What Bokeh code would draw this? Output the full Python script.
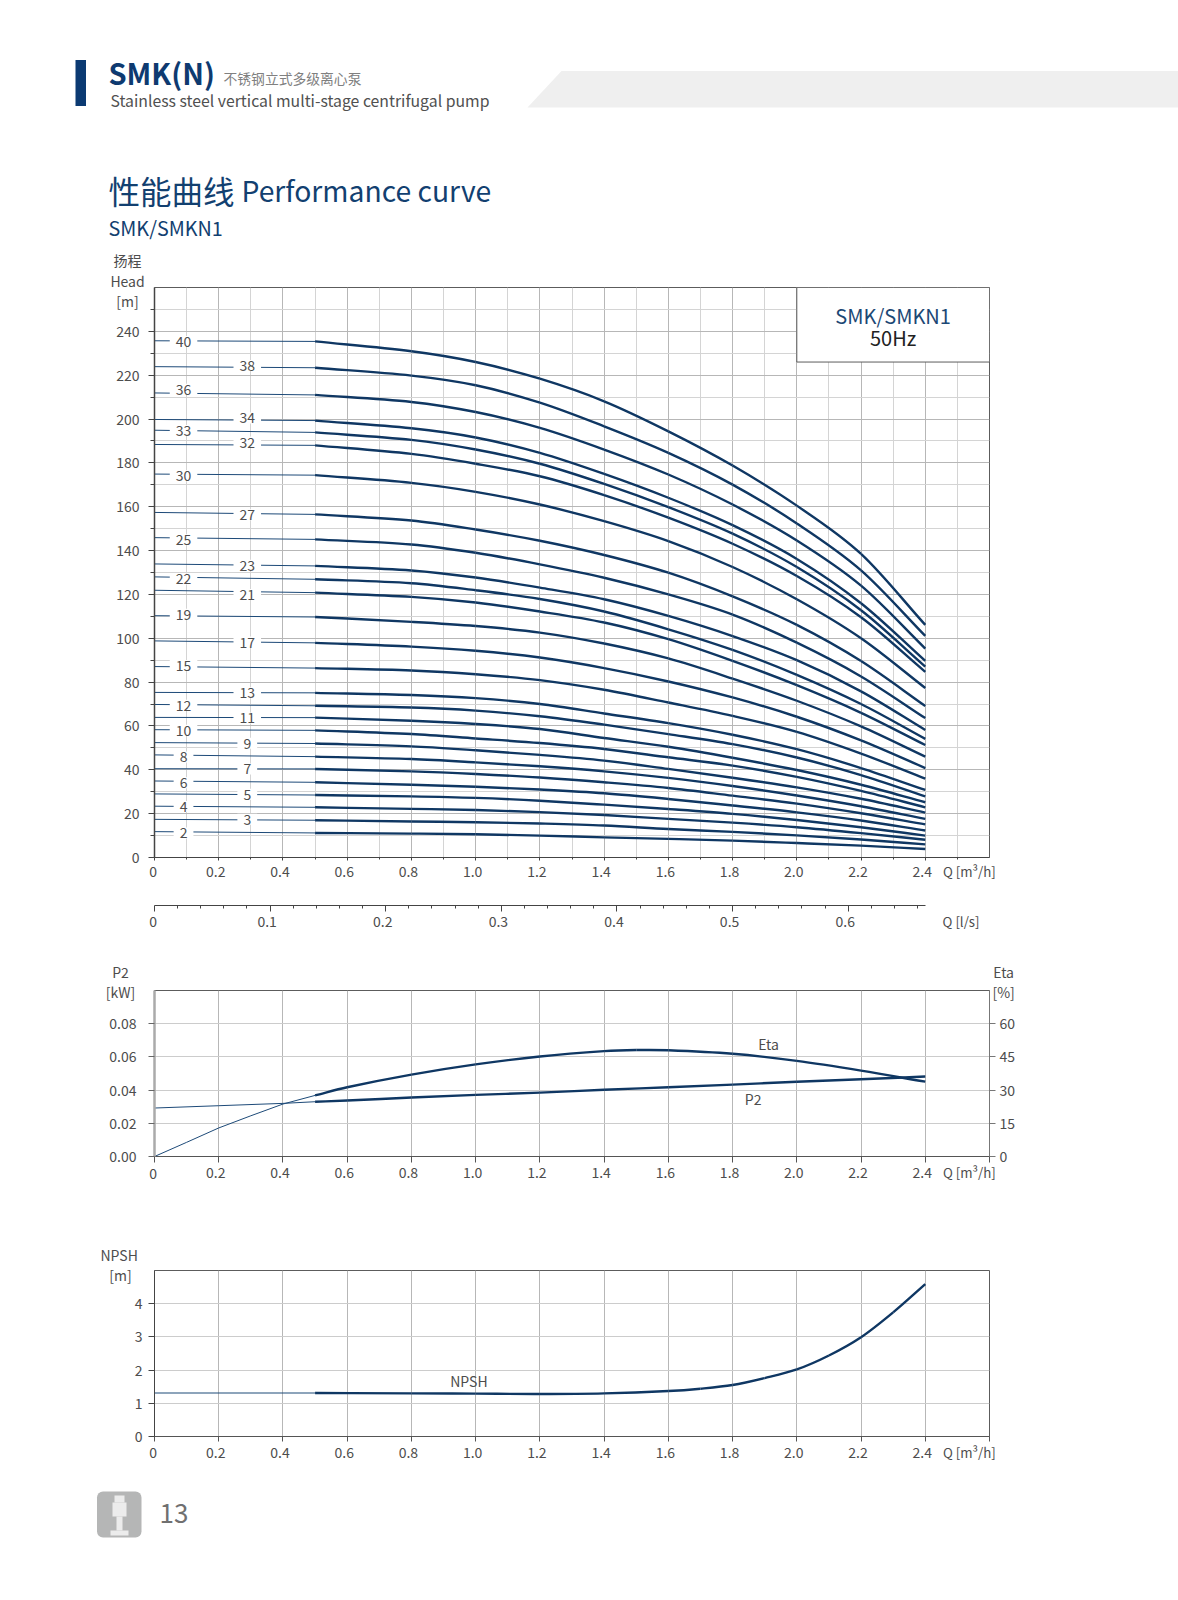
from bokeh.plotting import figure
from bokeh.models import (Range1d, LinearAxis, FixedTicker, Label, BoxAnnotation,
                          ColumnDataSource, PrintfTickFormatter)
from bokeh.layouts import column
from bokeh.core.properties import value
from bokeh.embed import file_html
from bokeh.resources import INLINE

FONT = "Noto Sans CJK SC"
NAVY = "#0f3763"
THIN = "#1d4a78"
TXT = "#4d4d4d"

# ---------- data ----------
Q = [0, 0.5, 0.8, 1.0, 1.2, 1.4, 1.6, 1.8, 2.0, 2.2, 2.4]
stage_40 = [235.7, 235.4, 230.9, 226.0, 218.4, 208.1, 194.4, 178.8, 160.5, 138.5, 106.1]
stage_38 = [223.9, 223.4, 219.8, 215.4, 207.5, 196.7, 184.6, 170.1, 152.4, 131.0, 101.1]
stage_36 = [211.9, 211.0, 207.8, 203.2, 196.0, 186.1, 174.7, 161.0, 144.6, 124.0, 95.3]
stage_34 = [199.8, 199.3, 195.8, 191.6, 184.6, 175.0, 164.1, 151.6, 136.2, 116.0, 89.7]
stage_33 = [194.9, 193.9, 190.5, 186.1, 179.6, 170.4, 159.8, 147.7, 132.5, 112.8, 87.1]
stage_32 = [188.4, 188.0, 184.1, 179.6, 173.9, 165.3, 155.0, 143.1, 128.4, 109.6, 84.7]
stage_30 = [174.9, 174.4, 170.9, 166.8, 161.0, 153.4, 144.3, 132.5, 117.8, 100.0, 77.3]
stage_27 = [157.4, 156.5, 153.7, 149.6, 144.5, 138.0, 129.9, 119.1, 106.1, 89.6, 69.1]
stage_25 = [145.9, 145.1, 142.8, 139.0, 133.7, 127.6, 120.0, 110.8, 98.0, 82.6, 63.6]
stage_23 = [133.9, 133.0, 130.9, 127.7, 123.1, 117.8, 110.2, 101.0, 90.0, 75.8, 58.2]
stage_22 = [128.0, 126.9, 125.1, 121.9, 117.9, 112.2, 104.1, 94.7, 83.3, 70.0, 54.1]
stage_21 = [121.9, 120.8, 118.9, 116.3, 112.2, 107.2, 99.6, 89.7, 78.6, 66.0, 51.3]
stage_19 = [110.3, 109.7, 107.5, 105.6, 102.6, 97.6, 90.8, 81.6, 71.5, 59.8, 46.0]
stage_17 = [98.8, 97.9, 96.2, 94.3, 91.2, 86.4, 80.3, 73.0, 64.2, 53.4, 40.8]
stage_15 = [87.1, 86.4, 85.3, 83.6, 80.9, 76.5, 70.7, 64.6, 57.3, 47.4, 36.0]
stage_13 = [75.3, 75.1, 74.1, 72.7, 70.0, 65.7, 61.3, 56.0, 49.4, 40.8, 30.8]
stage_12 = [69.8, 69.2, 68.4, 67.0, 64.4, 60.6, 56.3, 51.7, 45.6, 37.6, 27.9]
stage_11 = [63.9, 63.8, 62.4, 60.9, 58.6, 54.5, 50.5, 45.5, 39.9, 33.2, 25.2]
stage_10 = [58.3, 58.0, 56.3, 54.3, 52.2, 49.5, 45.7, 41.9, 36.8, 30.4, 22.9]
stage_9 = [52.4, 52.0, 50.7, 48.9, 46.8, 44.2, 40.4, 36.4, 32.0, 26.8, 20.5]
stage_8 = [46.8, 46.0, 44.9, 43.4, 41.6, 39.3, 36.3, 32.6, 28.3, 23.4, 17.6]
stage_7 = [40.5, 40.4, 39.3, 38.1, 36.5, 34.3, 31.7, 28.2, 24.6, 20.2, 15.1]
stage_6 = [34.9, 34.3, 33.2, 32.3, 31.0, 29.3, 26.7, 23.7, 20.6, 16.9, 12.3]
stage_5 = [29.0, 28.5, 27.9, 27.2, 25.9, 24.1, 22.1, 19.9, 17.1, 13.8, 10.0]
stage_4 = [23.4, 22.9, 22.2, 21.7, 20.7, 19.4, 17.6, 15.9, 13.8, 11.1, 8.1]
stage_3 = [17.4, 17.0, 16.4, 16.1, 15.5, 14.6, 13.0, 11.7, 10.1, 8.2, 6.0]
stage_2 = [11.8, 11.2, 10.9, 10.6, 10.0, 9.2, 8.5, 7.7, 6.6, 5.4, 3.9]

curves = {40: stage_40, 38: stage_38, 36: stage_36, 34: stage_34, 33: stage_33, 32: stage_32,
          30: stage_30, 27: stage_27, 25: stage_25, 23: stage_23, 22: stage_22, 21: stage_21,
          19: stage_19, 17: stage_17, 15: stage_15, 13: stage_13, 12: stage_12, 11: stage_11,
          10: stage_10, 9: stage_9, 8: stage_8, 7: stage_7, 6: stage_6, 5: stage_5,
          4: stage_4, 3: stage_3, 2: stage_2}

label_left = [40, 36, 33, 30, 25, 22, 19, 15, 12, 10, 8, 6, 4, 2]
label_right = [38, 34, 32, 27, 23, 21, 17, 13, 11, 9, 7, 5, 3]
label_h = {40: 234.7, 38: 223.7, 36: 212.9, 34: 199.8, 33: 194.1, 32: 188.8, 30: 173.5, 27: 155.7,
           25: 144.3, 23: 132.6, 22: 126.4, 21: 119.3, 19: 110.3, 17: 97.6, 15: 86.9, 13: 74.5,
           12: 68.8, 11: 63.0, 10: 57.4, 9: 51.4, 8: 45.2, 7: 39.7, 6: 33.4, 5: 28.2, 4: 22.6,
           3: 16.8, 2: 10.5}

q_ticks = [0, 0.2, 0.4, 0.6, 0.8, 1.0, 1.2, 1.4, 1.6, 1.8, 2.0, 2.2, 2.4]
q_tick_labels = ["0", "0.2", "0.4", "0.6", "0.8", "1.0", "1.2", "1.4", "1.6", "1.8", "2.0", "2.2", "2.4"]
q_minor = [0.1, 0.3, 0.5, 0.7, 0.9, 1.1, 1.3, 1.5, 1.7, 1.9, 2.1, 2.3, 2.5]
h_ticks = [0, 20, 40, 60, 80, 100, 120, 140, 160, 180, 200, 220, 240]
h_minor = [10, 30, 50, 70, 90, 110, 130, 150, 170, 190, 210, 230, 250]
ls_ticks = [0, 0.1, 0.2, 0.3, 0.4, 0.5, 0.6]
ls_tick_labels = ["0", "0.1", "0.2", "0.3", "0.4", "0.5", "0.6"]
ls_minor = [0.02, 0.04, 0.06, 0.08, 0.12, 0.14, 0.16, 0.18, 0.22, 0.24, 0.26, 0.28, 0.32, 0.34,
            0.36, 0.38, 0.42, 0.44, 0.46, 0.48, 0.52, 0.54, 0.56, 0.58, 0.62, 0.64, 0.66]

p2_ticks = [0, 0.02, 0.04, 0.06, 0.08]
eta_ticks = [0, 15, 30, 45, 60]
npsh_ticks = [0, 1, 2, 3, 4]

eta_q = [0, 0.1, 0.2, 0.3, 0.4, 0.5, 0.6, 0.8, 1.0, 1.2, 1.4, 1.5, 1.6, 1.8, 2.0, 2.2, 2.4]
eta_v = [0, 6.4, 12.9, 18.4, 23.7, 27.6, 31.3, 37.0, 41.6, 45.2, 47.6, 48.1, 48.0, 46.4, 43.2, 38.8, 33.8]
p2_q = [0, 0.2, 0.4, 0.5, 0.6, 0.8, 1.0, 1.2, 1.4, 1.6, 1.8, 2.0, 2.2, 2.4]
p2_v = [0.0292, 0.0306, 0.0320, 0.0330, 0.0337, 0.0355, 0.0371, 0.0385, 0.0402, 0.0417, 0.0433, 0.0450, 0.0465, 0.0482]
npsh_q = [0, 0.5, 0.8, 1.0, 1.2, 1.4, 1.6, 1.7, 1.8, 1.9, 2.0, 2.1, 2.2, 2.3, 2.4]
npsh_v = [1.31, 1.31, 1.30, 1.29, 1.28, 1.30, 1.37, 1.44, 1.55, 1.76, 2.02, 2.44, 2.99, 3.74, 4.59]

W = 1178
FRAME_W = 835


def note(p, x, y, t, size="14px", color=TXT, align="center", side=None, y_offset=1):
    lab = Label(x=x, y=y, y_offset=y_offset, text=t, text_font=FONT, text_font_size=size, text_color=color,
                text_align=align, text_baseline="middle")
    if side:
        p.add_layout(lab, side)
    else:
        p.add_layout(lab)


def smooth(p, xs, ys, **kw):
    """Draw a smooth stroke through the read points, using bezier segments."""
    n = len(xs)
    t = []
    for i in range(n):
        a, b = max(i - 1, 0), min(i + 1, n - 1)
        t.append((ys[b] - ys[a]) / (xs[b] - xs[a]))
    x0, y0, x1, y1, cx0, cy0, cx1, cy1 = [], [], [], [], [], [], [], []
    for i in range(n - 1):
        d = (xs[i + 1] - xs[i]) / 3
        x0.append(xs[i]); y0.append(ys[i]); x1.append(xs[i + 1]); y1.append(ys[i + 1])
        cx0.append(xs[i] + d); cy0.append(ys[i] + t[i] * d)
        cx1.append(xs[i + 1] - d); cy1.append(ys[i + 1] - t[i + 1] * d)
    p.bezier(x0, y0, x1, y1, cx0, cy0, cx1, cy1, **kw)


def page_figure(top, bottom):
    p = figure(width=W, height=bottom - top, output_backend="svg", toolbar_location=None,
               x_range=Range1d(0, 1178), y_range=Range1d(bottom, top),
               min_border=0, outline_line_color=None, frame_align=False)
    p.axis.visible = False
    p.grid.visible = False
    return p


def style_axis(ax, size="14px"):
    ax.major_label_text_font = FONT
    ax.major_label_text_font_size = size
    ax.major_label_text_color = TXT


def shifted_labels(p, ax, ticks, labels, standoff, zero_y, zero_offset=1, px=3):
    """Tick labels sit a few pixels left of their ticks in the reference: they get their own axis.
    The first label would fall outside that axis' range, so it is placed as a note."""
    ax.major_label_overrides = {t: "" for t in ax.ticker.ticks}
    ax.major_label_text_font_size = "0px"
    ax.major_label_standoff = 0
    span = p.x_range.end - p.x_range.start
    d = span * px / FRAME_W
    p.extra_x_ranges["labels"] = Range1d(p.x_range.start + d, p.x_range.end + d)
    rest = ticks[1:]
    lab = LinearAxis(x_range_name="labels", ticker=FixedTicker(ticks=rest),
                     major_label_overrides=dict(zip(rest, labels[1:])),
                     major_label_standoff=standoff, axis_line_color=None,
                     major_tick_line_color=None, minor_tick_line_color=None,
                     major_tick_out=0, major_tick_in=0, minor_tick_out=0, minor_tick_in=0)
    style_axis(lab)
    p.add_layout(lab, "below")
    note(p, ticks[0] - span * 1.3 / FRAME_W, zero_y, labels[0], side="left", y_offset=zero_offset)


def chart(top, frame_top, frame_bottom, bottom, y_end):
    p = figure(width=W, height=bottom - top, output_backend="svg", toolbar_location=None,
               x_range=Range1d(0, 2.6), y_range=Range1d(0, y_end),
               min_border_left=154, min_border_right=189,
               min_border_top=frame_top - top, min_border_bottom=bottom - frame_bottom,
               outline_line_color="#5c5c5c", outline_line_width=1, frame_align=False)
    return p


# ---------- header ----------
head = page_figure(0, 250)
head.quad(left=[75], right=[85.5], top=[59.5], bottom=[105.5], fill_color="#0b3a72", line_color=None)
head.patch([527, 561, 1178, 1178], [107, 70.5, 70.5, 107], fill_color="#efefef", line_color=None)


def htext(x, y, t, size, color, style="normal"):
    head.text([x], [y], text=[t], text_font=value(FONT), text_font_size=value(size), text_color=color,
              text_font_style=style, text_baseline="alphabetic", text_align="left")


htext(108, 71, "SMK(N)", "29px", "#0e3a70", "bold")
htext(223, 77, "不锈钢立式多级离心泵", "13.8px", "#808080")
htext(110, 99.5, "Stainless steel vertical multi-stage centrifugal pump", "15.8px", "#505050")
htext(108, 189, "性能曲线", "31.5px", "#124070")
htext(241, 189, "Performance curve", "28.3px", "#124070")
htext(108, 227, "SMK/SMKN1", "19.8px", "#124070")

# ---------- head chart ----------
main = chart(250, 287, 857, 900, 260)
main.xgrid.ticker = FixedTicker(ticks=q_ticks, minor_ticks=q_minor)
main.ygrid.ticker = FixedTicker(ticks=h_ticks, minor_ticks=h_minor)
for g in (main.xgrid[0], main.ygrid[0]):
    g.grid_line_color = "#b7b7b7"
    g.minor_grid_line_color = "#d4d4d4"
    g.grid_line_width = 1
    g.minor_grid_line_width = 1

xa = main.xaxis[0]
xa.ticker = FixedTicker(ticks=q_ticks, minor_ticks=q_minor)
xa.major_tick_out, xa.major_tick_in, xa.minor_tick_out, xa.minor_tick_in = 3, 0, 2, 0
xa.axis_line_color = xa.major_tick_line_color = xa.minor_tick_line_color = "#444444"
style_axis(xa)
shifted_labels(main, xa, q_ticks, q_tick_labels, 5, -7.2, zero_offset=2)
ya = main.yaxis[0]
ya.ticker = FixedTicker(ticks=h_ticks, minor_ticks=h_minor)
ya.major_tick_out, ya.major_tick_in, ya.minor_tick_out, ya.minor_tick_in = 6, 0, 4, 0
ya.major_label_standoff = 9
ya.axis_line_color = ya.major_tick_line_color = ya.minor_tick_line_color = "#444444"
ya.axis_line_width = 1.5
style_axis(ya)

main.quad(left=[2.0], right=[2.6], bottom=[226], top=[260], fill_color="white", line_color="#5c5c5c", line_width=1)

for n, h in curves.items():
    main.line(Q[:2], h[:2], line_color=THIN, line_width=1)
    smooth(main, Q[1:], h[1:], line_color=NAVY, line_width=2.4)

for names, q_pos in ((label_left, 0.0935), (label_right, 0.292)):
    src = ColumnDataSource(dict(x=[q_pos] * len(names), y=[label_h[n] for n in names],
                                t=[str(n) for n in names]))
    main.text("x", "y", text="t", source=src, text_font=value(FONT), text_font_size=value("14px"),
              text_color=TXT, text_align="center", text_baseline="middle", x_offset=-1, y_offset=-1.5,
              background_fill_color="white", padding=(6, 0))

note(main, 2.3, 247.3, "SMK/SMKN1", "20px", "#1c4875", y_offset=0)
note(main, 2.3, 237.3, "50Hz", "20px", "#222222", y_offset=0)
note(main, -0.084, 271.5, "扬程", side="left", y_offset=2)
note(main, -0.084, 262.3, "Head", side="left")
note(main, -0.084, 253.2, "[m]", side="left")
note(main, 2.455, -7.2, "Q [m³/h]", "13.3px", align="left", side="right", y_offset=2)

# ---------- l/s axis ----------
ls = figure(width=W, height=40, output_backend="svg", toolbar_location=None,
            x_range=Range1d(0, 2.6 / 3.6), y_range=Range1d(0, 1),
            min_border_left=154, min_border_right=189, min_border_top=4, min_border_bottom=35,
            outline_line_color=None, frame_align=False)
ls.grid.visible = False
ls.yaxis.visible = False
la = ls.xaxis[0]
la.ticker = FixedTicker(ticks=ls_ticks, minor_ticks=ls_minor)
la.bounds = (0, 2.4 / 3.6)
la.major_tick_out, la.major_tick_in, la.minor_tick_out, la.minor_tick_in = 6, 0, 3, 0
la.axis_line_color = la.major_tick_line_color = la.minor_tick_line_color = "#444444"
style_axis(la)
shifted_labels(ls, la, ls_ticks, ls_tick_labels, 4, 0, zero_offset=-16)
note(ls, 0.6816, 0, "Q [l/s]", "13.3px", align="left", side="right", y_offset=-16)

# ---------- P2 / Eta ----------
pw = chart(940, 990, 1156, 1190, 0.10)
pw.extra_y_ranges = {"eta": Range1d(0, 75)}
pw.xgrid.ticker = FixedTicker(ticks=q_ticks)
pw.ygrid.ticker = FixedTicker(ticks=p2_ticks)
pw.xgrid.grid_line_color = "#b7b7b7"
pw.ygrid.grid_line_color = "#cccccc"
xa = pw.xaxis[0]
xa.ticker = FixedTicker(ticks=q_ticks + [2.6])
xa.major_tick_out, xa.major_tick_in, xa.minor_tick_out = 6, 0, 0
xa.axis_line_color = xa.major_tick_line_color = "#555555"
style_axis(xa)
shifted_labels(pw, xa, q_ticks, q_tick_labels, 4, -0.0115, zero_offset=2)
ya = pw.yaxis[0]
ya.ticker = FixedTicker(ticks=p2_ticks)
ya.formatter = PrintfTickFormatter(format="%.2f")
ya.major_tick_out, ya.major_tick_in, ya.minor_tick_out = 6, 0, 0
ya.major_label_standoff = 12
ya.axis_line_color = "#aaaaaa"
ya.axis_line_width = 2.5
ya.major_tick_line_color = "#666666"
style_axis(ya)
ra = LinearAxis(y_range_name="eta", ticker=FixedTicker(ticks=eta_ticks))
ra.major_tick_out, ra.major_tick_in, ra.minor_tick_out = 6, 0, 0
ra.major_label_standoff = 4
ra.axis_line_color = ra.major_tick_line_color = "#777777"
style_axis(ra)
pw.add_layout(ra, "right")

pw.line(eta_q[:6], eta_v[:6], y_range_name="eta", line_color=THIN, line_width=1)
smooth(pw, eta_q[5:], eta_v[5:], y_range_name="eta", line_color=NAVY, line_width=2.4)
pw.line(p2_q[:4], p2_v[:4], line_color=THIN, line_width=1)
smooth(pw, p2_q[3:], p2_v[3:], line_color=NAVY, line_width=2.4)
note(pw, 1.912, 0.067, "Eta")
note(pw, 1.864, 0.0339, "P2")
note(pw, -0.106, 0.1105, "P2", side="left")
note(pw, -0.106, 0.0985, "[kW]", side="left")
note(pw, 2.644, 0.1105, "Eta", side="right")
note(pw, 2.644, 0.0985, "[%]", side="right")
note(pw, 2.455, -0.0115, "Q [m³/h]", "13.3px", align="left", side="right", y_offset=3)

# ---------- NPSH ----------
np_ = chart(1190, 1270, 1436, 1470, 5)
np_.xgrid.ticker = FixedTicker(ticks=q_ticks)
np_.ygrid.ticker = FixedTicker(ticks=npsh_ticks)
np_.xgrid.grid_line_color = "#b7b7b7"
np_.ygrid.grid_line_color = "#cccccc"
xa = np_.xaxis[0]
xa.ticker = FixedTicker(ticks=q_ticks + [2.6])
xa.major_tick_out, xa.major_tick_in, xa.minor_tick_out = 5, 0, 0
xa.axis_line_color = xa.major_tick_line_color = "#555555"
style_axis(xa)
shifted_labels(np_, xa, q_ticks, q_tick_labels, 5, -0.52, zero_offset=1)
ya = np_.yaxis[0]
ya.ticker = FixedTicker(ticks=npsh_ticks)
ya.major_tick_out, ya.major_tick_in, ya.minor_tick_out = 6, 0, 0
ya.major_label_standoff = 6
ya.axis_line_color = ya.major_tick_line_color = "#444444"
style_axis(ya)
np_.line(npsh_q[:2], npsh_v[:2], line_color=THIN, line_width=1.2)
smooth(np_, npsh_q[1:], npsh_v[1:], line_color=NAVY, line_width=2.4)
note(np_, 0.979, 1.63, "NPSH")
note(np_, -0.11, 5.44, "NPSH", side="left")
note(np_, -0.106, 4.84, "[m]", side="left")
note(np_, 2.455, -0.52, "Q [m³/h]", "13.3px", align="left", side="right", y_offset=1)

# ---------- footer ----------
foot = page_figure(1470, 1560)
foot.add_layout(BoxAnnotation(left=96.5, right=141, top=1491, bottom=1537, fill_color="#b5b6b6", fill_alpha=1,
                              line_color=None, border_radius=6))
foot.quad(left=[114, 112, 116, 110], right=[124, 126, 122, 128], top=[1495, 1502, 1516, 1530],
          bottom=[1502, 1516, 1530, 1535], fill_color="#ececec", line_color=None, level="overlay")
foot.text([159], [1513], text=["13"], text_font=value(FONT), text_font_size=value("26px"),
          text_color="#707070", text_baseline="alphabetic", text_align="left")

page = column(head, main, ls, pw, np_, foot, spacing=0)
open("out.html", "w").write(file_html(page, INLINE))
